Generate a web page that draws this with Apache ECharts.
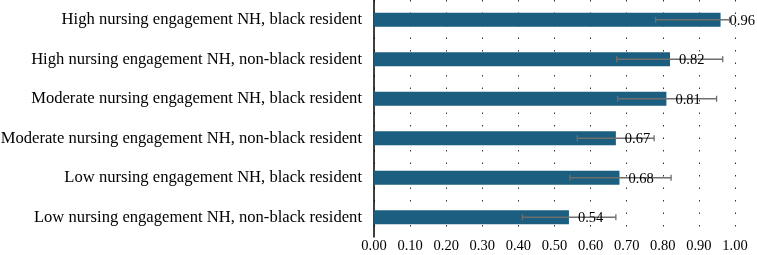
<!DOCTYPE html>
<html>
<head>
<meta charset="utf-8">
<script src="https://cdn.jsdelivr.net/npm/echarts@6/dist/echarts.min.js"></script>
<style>
  html, body { margin: 0; padding: 0; background: #fff; }
  #chart { width: 757px; height: 255px; }
</style>
</head>
<body>
<div id="chart"></div>
<script>
// categories top -> bottom
const categories = [
    'High nursing engagement NH, black resident',
    'High nursing engagement NH, non-black resident',
    'Moderate nursing engagement NH, black resident',
    'Moderate nursing engagement NH, non-black resident',
    'Low nursing engagement NH, black resident',
    'Low nursing engagement NH, non-black resident'
];
const values = [0.96, 0.82, 0.81, 0.67, 0.68, 0.54];
const lower = [0.78, 0.672, 0.675, 0.563, 0.543, 0.411];
const upper = [0.985, 0.966, 0.949, 0.776, 0.823, 0.670];

const serif = '"Liberation Serif", "DejaVu Serif", serif';

const chart = echarts.init(document.getElementById('chart'));

const option = {
    animation: false,
    grid: { left: 374, right: 22, top: 0, bottom: 18, containLabel: false, outerBoundsMode: 'none' },
    xAxis: {
        type: 'value',
        min: 0,
        max: 1,
        interval: 0.1,
        axisLine: { show: false },
        axisTick: { show: false },
        axisLabel: {
            color: '#000',
            fontFamily: serif,
            fontSize: 14.5,
            margin: 2,
            formatter: v => v.toFixed(2)
        },
        splitLine: {
            show: true,
            lineStyle: { color: '#333', width: 1, type: [1.5, 11] }
        }
    },
    yAxis: {
        type: 'category',
        data: categories,
        inverse: true,
        axisLine: { show: true, lineStyle: { color: '#000', width: 1.5 } },
        axisTick: { show: false },
        axisLabel: {
            color: '#000',
            fontFamily: serif,
            fontSize: 16.6,
            margin: 12
        }
    },
    series: [
        {
            type: 'bar',
            data: values,
            barWidth: 14,
            itemStyle: { color: '#1b5e80' },
            z: 2
        },
        {
            type: 'custom',
            z: 3,
            data: categories.map((c, i) => [lower[i], upper[i], i, values[i]]),
            renderItem: function (params, api) {
                const lo = api.coord([api.value(0), api.value(2)]);
                const hi = api.coord([api.value(1), api.value(2)]);
                const bar = api.coord([api.value(3), api.value(2)]);
                const cap = 3;
                const st = { stroke: '#6e6e6e', lineWidth: 1.3 };
                return {
                    type: 'group',
                    children: [
                        { type: 'line', shape: { x1: lo[0], y1: lo[1], x2: hi[0], y2: hi[1] }, style: st },
                        { type: 'line', shape: { x1: lo[0], y1: lo[1] - cap, x2: lo[0], y2: lo[1] + cap }, style: st },
                        { type: 'line', shape: { x1: hi[0], y1: hi[1] - cap, x2: hi[0], y2: hi[1] + cap }, style: st },
                        {
                            type: 'text',
                            z2: 10,
                            style: {
                                x: bar[0] + 9,
                                y: bar[1] + 1,
                                text: api.value(3).toFixed(2),
                                fill: '#000',
                                font: '14.5px ' + serif,
                                verticalAlign: 'middle'
                            }
                        }
                    ]
                };
            }
        }
    ]
};

chart.setOption(option);
</script>
</body>
</html>
